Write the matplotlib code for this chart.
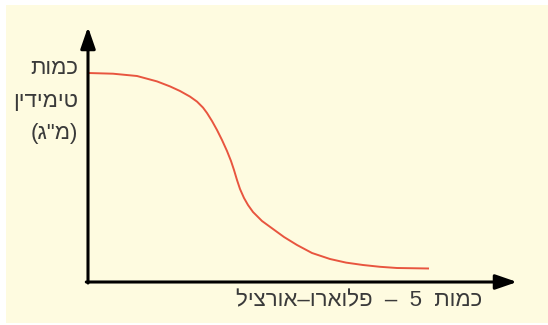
"""
Sketch of thymidine amount against 5-fluorouracil amount (schematic curve, no ticks).
"""
import matplotlib
matplotlib.use("Agg")
import matplotlib.pyplot as plt
from matplotlib.patches import Rectangle

# values (arbitrary units)
fluorouracil = [0, 0.625, 1.225, 1.725, 2.05, 2.3, 2.55, 2.725, 2.875, 2.975, 3.1,
                3.225, 3.35, 3.475, 3.575, 3.65, 3.725, 3.8, 3.9, 4.0, 4.125, 4.35,
                4.625, 4.9, 5.225, 5.6, 6.05, 6.45, 6.875, 7.3, 7.725, 8.525]
thymidine = [10.45, 10.415, 10.3, 10.03, 9.78, 9.55, 9.27, 9.02, 8.72, 8.45, 8.05,
             7.6, 7.1, 6.55, 6.05, 5.6, 5.1, 4.65, 4.2, 3.85, 3.5, 3.05,
             2.65, 2.25, 1.85, 1.45, 1.15, 0.97, 0.85, 0.76, 0.7, 0.675]

yLabelLines = ["כמות", "טימידין", "(מ\"ג)"]
xLabel = "כמות  5  –  פלוארו–אורציל"

BG = "#fefbe0"
INK = "#3a3a3a"
FONT = "Liberation Sans"


def visual(text):
    """
    matplotlib has no bidi support, so put the hebrew into visual order
    :param text: logical order string
    :return: reversed string with mirrored brackets
    """
    mirror = {"(": ")", ")": "("}
    return "".join(mirror.get(c, c) for c in text[::-1])


def drawAxisArrow(ax, start, end):
    """
    draws one black axis with a filled arrow head, in axes fraction coords
    """
    ax.annotate("", xy=end, xytext=start, xycoords="axes fraction",
                textcoords="axes fraction",
                arrowprops=dict(arrowstyle="-|>,head_length=1.3,head_width=0.45",
                                mutation_scale=10, color="black", lw=2.2,
                                shrinkA=0, shrinkB=0),
                annotation_clip=False)


if __name__ == "__main__":
    W, H = 548, 325
    fig = plt.figure(figsize=(W / 100, H / 100), dpi=100)
    fig.patch.set_facecolor("white")
    fig.patches.append(Rectangle((6 / W, 2 / H), 542 / W, 318 / H,
                                 transform=fig.transFigure, facecolor=BG,
                                 edgecolor="none", zorder=-1))

    # origin at pixel (88, 282), arrow tips at x=517 and y=27
    ax = fig.add_axes([88 / W, (H - 282) / H, (517 - 88) / W, (282 - 27) / H])
    ax.set_xlim(0, (517 - 88) / 40)
    ax.set_ylim(0, (282 - 27) / 20)
    ax.patch.set_visible(False)
    for s in ax.spines.values():
        s.set_visible(False)
    ax.set_xticks([])
    ax.set_yticks([])

    ax.plot(fluorouracil, thymidine, color="#e8553f", lw=1.4,
            solid_joinstyle="round", solid_capstyle="butt")

    drawAxisArrow(ax, (0, -0.004), (0, 1))
    drawAxisArrow(ax, (-0.004, 0), (1, 0))

    for i, line in enumerate(yLabelLines):
        fig.text(78 / W, 1 - (69 + 32.5 * i) / H, visual(line), ha="right",
                 va="center", fontsize=16, color=INK, family=FONT)

    fig.text(482 / W, 1 - 301 / H, visual(xLabel), ha="right", va="center",
             fontsize=16, color=INK, family=FONT)

    fig.savefig("out.png", dpi=100, facecolor=fig.get_facecolor())
